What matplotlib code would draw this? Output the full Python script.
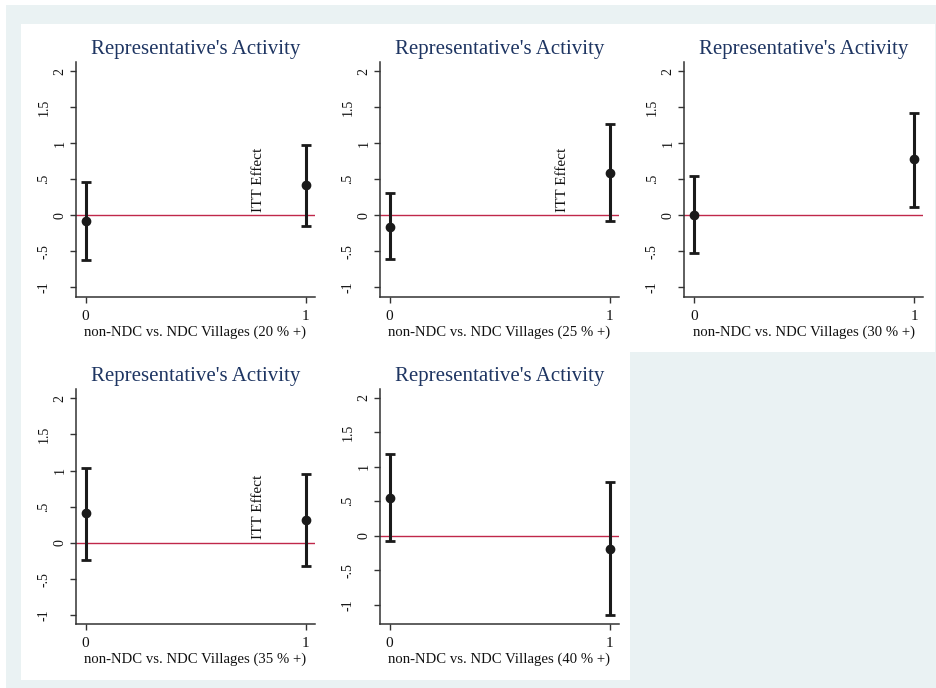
import matplotlib
matplotlib.use("Agg")
import matplotlib.pyplot as plt
from matplotlib.patches import Rectangle
from matplotlib.transforms import ScaledTranslation

plt.rcParams['font.family'] = ['Liberation Serif', 'DejaVu Serif']

W, H = 937, 688
BG = '#EAF2F3'
TITLE_C = '#1e3562'
LINE_C = '#c0284a'
MARK_C = '#1a1a1a'

title = "Representative's Activity"
xlabels = ["non-NDC vs. NDC Villages (20 % +)",
           "non-NDC vs. NDC Villages (25 % +)",
           "non-NDC vs. NDC Villages (30 % +)",
           "non-NDC vs. NDC Villages (35 % +)",
           "non-NDC vs. NDC Villages (40 % +)"]
groups = [0, 1]
est = [[-0.074, 0.416], [-0.157, 0.583], [0.0, 0.782], [0.414, 0.314], [0.548, -0.182]]
lo = [[-0.624, -0.153], [-0.605, -0.078], [-0.531, 0.111], [-0.239, -0.322], [-0.072, -1.138]]
hi = [[0.458, 0.98], [0.305, 1.258], [0.537, 1.424], [1.036, 0.953], [1.18, 0.778]]
itt_shown = [True, True, False, True, False]
yticks = [-1, -0.5, 0, 0.5, 1, 1.5, 2]
yticklabels = ["-1", "-.5", "0", ".5", "1", "1.5", "2"]
ylims = [(-1.135, 2.125), (-1.135, 2.125), (-1.135, 2.125), (-1.124, 2.124), (-1.278, 2.12)]

fig = plt.figure(figsize=(W / 100, H / 100), dpi=100)
fig.patch.set_facecolor('white')

def fx(px):
    return px / W

def fy(py):
    return 1 - py / H

fig.patches.append(Rectangle((fx(6), 0), fx(W - 6), fy(5), transform=fig.transFigure,
                             facecolor=BG, edgecolor='none', zorder=-10))
col_edges = [21, 325.7, 630.3, 935]
row_edges = [24, 352, 680]
for i in range(5):
    r, c = divmod(i, 3)
    x0, x1 = col_edges[c], col_edges[c + 1]
    y0, y1 = row_edges[r], row_edges[r + 1]
    fig.patches.append(Rectangle((fx(x0), fy(y1)), fx(x1 - x0), (y1 - y0) / H,
                                 transform=fig.transFigure, facecolor='white',
                                 edgecolor='none', zorder=-9))

ax_left = [76, 380, 684.3]
ax_top = [62, 389.3]
ax_w, ax_h = 239, 235

for i in range(5):
    r, c = divmod(i, 3)
    left = ax_left[c]
    top = ax_top[r]
    ax = fig.add_axes([fx(left), fy(top + ax_h), fx(ax_w), ax_h / H])
    ax.set_facecolor('white')
    ax.axhline(0, color=LINE_C, lw=1.0, zorder=1)
    yerr = [[e - l for e, l in zip(est[i], lo[i])], [h - e for e, h in zip(est[i], hi[i])]]
    ax.errorbar(groups, est[i], yerr=yerr, fmt='o', color=MARK_C, ms=6,
                elinewidth=2.2, capsize=3.5, capthick=2.0, zorder=3)
    if itt_shown[i]:
        ax.text(0.783, 0.05, "ITT Effect", rotation=90, ha='center', va='bottom',
                fontsize=11, color='#111111')
    ax.set_xlim(-0.044, 1.042)
    ax.set_ylim(*ylims[i])
    ax.set_xticks(groups)
    ax.set_xticklabels([str(g) for g in groups])
    ax.set_yticks(yticks)
    ax.set_yticklabels([])
    # Stata-style rotated y labels (multi-character labels sit further left)
    for v, lab in zip(yticks, yticklabels):
        dx = -16 if len(lab) == 1 else -32
        tr = ax.get_yaxis_transform() + ScaledTranslation(dx / 100, 0, fig.dpi_scale_trans)
        ax.text(0, v, lab, transform=tr, rotation=90, ha='center', va='center',
                fontsize=10, color='#111111', clip_on=False)
    for s in ['top', 'right']:
        ax.spines[s].set_visible(False)
    for s in ['left', 'bottom']:
        ax.spines[s].set_color('#333333')
        ax.spines[s].set_linewidth(1.1)
    ax.tick_params(axis='both', direction='out', length=4.5, width=1.0, color='#333333',
                   labelsize=11, labelcolor='#111111', pad=4.5)
    ax.set_xlabel(xlabels[i], fontsize=10.6, color='#111111', labelpad=2)
    ax.set_title(title, fontsize=15, color=TITLE_C, pad=6)

fig.savefig("out.png", dpi=100, facecolor=fig.get_facecolor())
